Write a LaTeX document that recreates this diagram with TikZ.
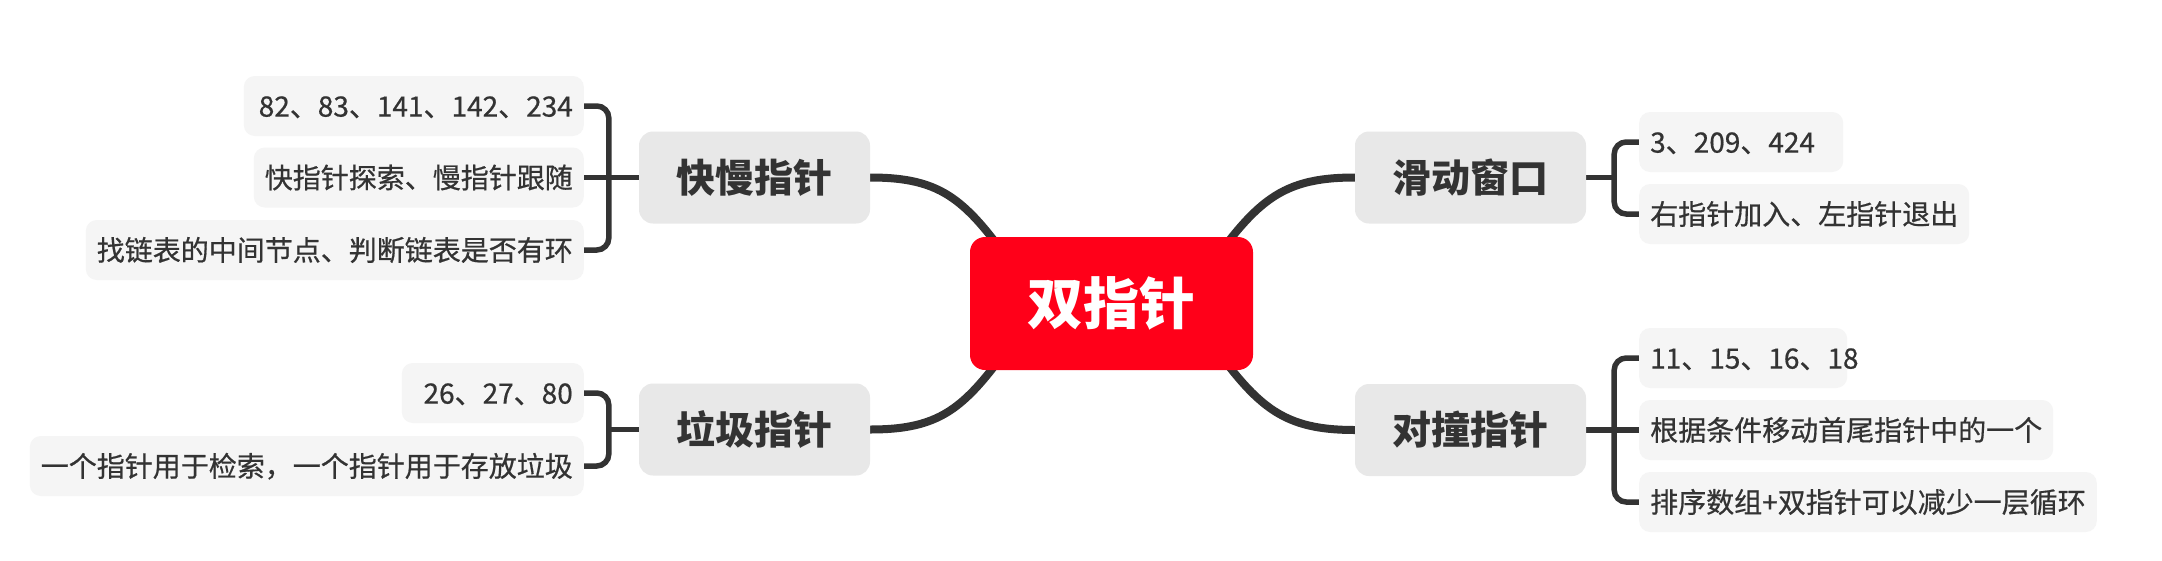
\documentclass[tikz,border=0pt]{standalone}
\usepackage{fontspec}
\newfontfamily\cjk{Noto Sans CJK SC}
\newfontfamily\cjkm[FakeBold=0.6]{Noto Sans CJK SC}
\usetikzlibrary{calc}
\pgfdeclarelayer{background}
\pgfsetlayers{background,main}
\definecolor{rootred}{HTML}{FF0019}
\definecolor{brgray}{HTML}{E8E8E8}
\definecolor{leafgray}{HTML}{F5F5F5}
\definecolor{ink}{HTML}{333333}
\begin{document}
\begin{tikzpicture}[x=1pt,y=-1pt,
  rootbox/.style={rectangle, rounded corners=15pt, fill=rootred, text=white,
    minimum width=283pt, minimum height=133pt, inner sep=0pt,
    font=\cjk\bfseries\fontsize{56}{60}\selectfont, text height=49.3pt, text depth=6.7pt},
  branchbox/.style={rectangle, rounded corners=14pt, fill=brgray, text=ink,
    minimum width=231pt, minimum height=92pt, inner sep=0pt,
    font=\cjk\bfseries\fontsize{39}{44}\selectfont, text height=34.3pt, text depth=4.7pt},
  leafbox/.style={rectangle, rounded corners=11pt, fill=leafgray, text=ink,
    minimum height=60pt, inner xsep=11pt, inner ysep=0pt,
    font=\cjkm\fontsize{28}{32}\selectfont, text height=24.6pt, text depth=3.4pt},
  leafL/.style={leafbox, anchor=east},
  leafR/.style={leafbox, anchor=west},
  mainline/.style={draw=ink, line width=8pt},
  brk/.style={draw=ink, line width=5.5pt, rounded corners=12pt}
]
\useasboundingbox (0,0) rectangle (2162,560);

\node[rootbox] (root) at (1111.5,303.5) {双指针};
\node[branchbox] (kuai) at (754.5,177.5) {快慢指针};
\node[branchbox] (laji) at (754.5,429.5) {垃圾指针};
\node[branchbox] (hua) at (1470.5,177.5) {滑动窗口};
\node[branchbox] (dui) at (1470.5,430) {对撞指针};

\node[leafL, text width=318pt, align=right] (q1) at (584,106) {82、83、141、142、234};
\node[leafL] (q2) at (584,177.5) {快指针探索、慢指针跟随};
\node[leafL] (q3) at (584,250) {找链表的中间节点、判断链表是否有环};

\node[leafL, text width=160pt, align=right] (g1) at (584,393) {26、27、80};
\node[leafL] (g2) at (584,466) {一个指针用于检索，一个指针用于存放垃圾};

\node[leafR, text width=182pt, align=left] (h1) at (1639,142) {3、209、424};
\node[leafR] (h2) at (1639,214) {右指针加入、左指针退出};

\node[leafR, text width=186pt, align=left] (d1) at (1639,358) {11、15、16、18};
\node[leafR] (d2) at (1639,430) {根据条件移动首尾指针中的一个};
\node[leafR] (d3) at (1639,502) {排序数组+双指针可以减少一层循环};

\coordinate (qb) at ($(kuai.west)+(-30,0)$);
\coordinate (gb) at ($(laji.west)+(-30,0)$);
\coordinate (hb) at ($(hua.east)+(28,0)$);
\coordinate (db) at ($(dui.east)+(28,0)$);

\begin{pgfonlayer}{background}
\fill[white] (0,0) rectangle (2162,560);
\draw[mainline] (kuai.east) .. controls ($(kuai.east)+(80,0)$) and ($(root.center)+(-141.5,-98.5)$) .. ($(root.center)+(-81.5,-13.5)$);
\draw[mainline] (laji.east) .. controls ($(laji.east)+(80,0)$) and ($(root.center)+(-141.5,98.5)$) .. ($(root.center)+(-81.5,13.5)$);
\draw[mainline] (hua.west) .. controls ($(hua.west)+(-80,0)$) and ($(root.center)+(141.5,-98.5)$) .. ($(root.center)+(81.5,-13.5)$);
\draw[mainline] (dui.west) .. controls ($(dui.west)+(-80,0)$) and ($(root.center)+(141.5,98.5)$) .. ($(root.center)+(81.5,13.5)$);

\draw[brk] (q1.east) -| (qb) |- (q3.east);
\draw[brk] (kuai.west) -- (q2.east);
\draw[brk] (g1.east) -| (gb) |- (g2.east);
\draw[brk] (laji.west) -- (gb);
\draw[brk] (h1.west) -| (hb) |- (h2.west);
\draw[brk] (hua.east) -- (hb);
\draw[brk] (d1.west) -| (db) |- (d3.west);
\draw[brk] (dui.east) -- (d2.west);
\end{pgfonlayer}
\end{tikzpicture}
\end{document}
